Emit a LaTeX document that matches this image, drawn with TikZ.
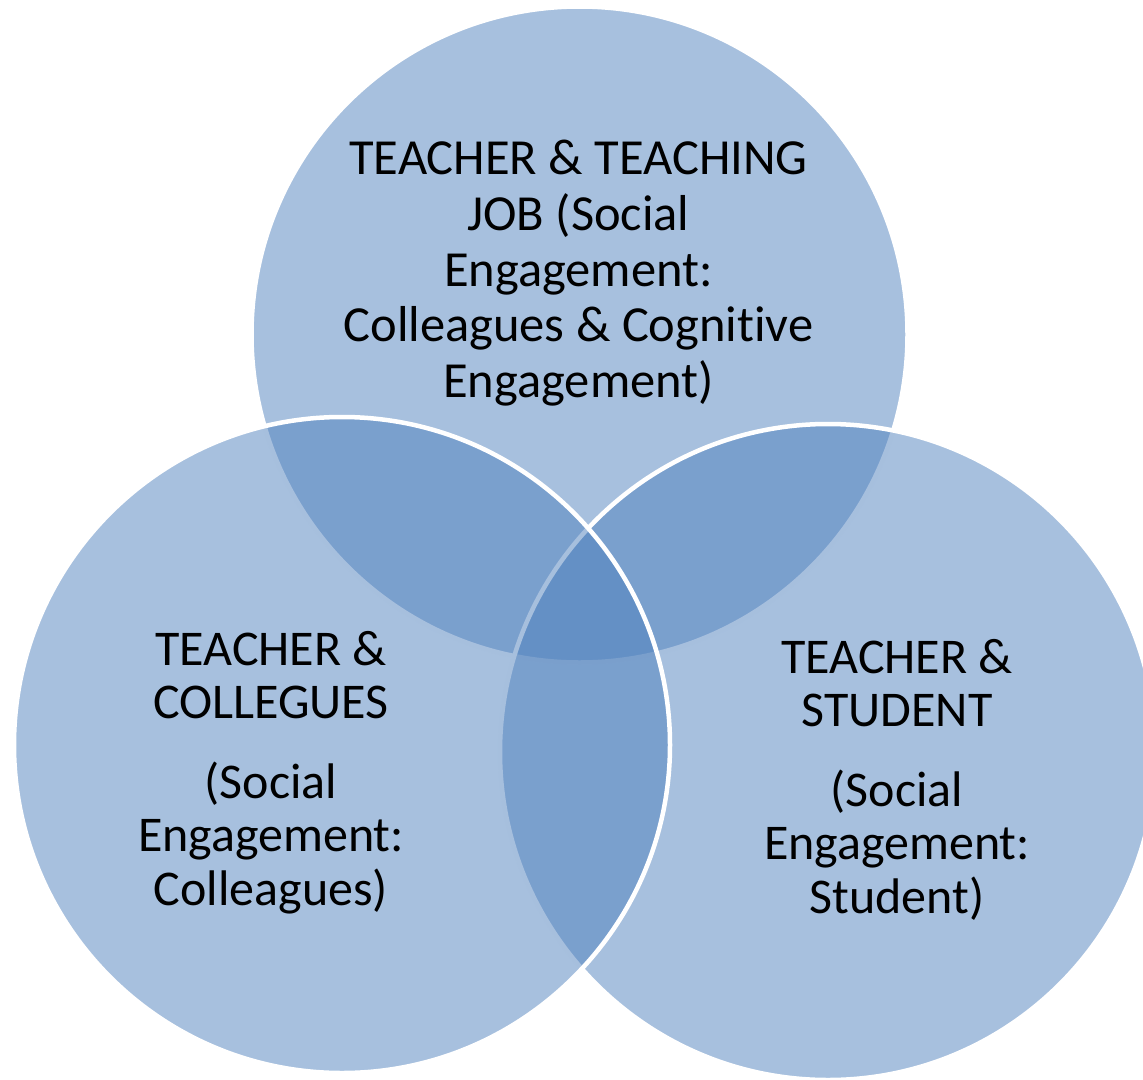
\documentclass[tikz,border=0pt]{standalone}
\usepackage{fontspec}
\setmainfont[Ligatures={NoCommon}]{Carlito}
\definecolor{vennblue}{RGB}{79,129,189}
\begin{document}
\begin{tikzpicture}[x=1pt,y=-1pt,
  venn/.style={circle, minimum size=656pt, inner sep=0pt, outer sep=0pt,
    fill=vennblue, fill opacity=0.5, draw=white, draw opacity=1, line width=4.5pt},
  label/.style={align=center, inner sep=0pt, anchor=north, text=black}]
\useasboundingbox (0,0) rectangle (1143,1079);
\clip (0,0) rectangle (1143,1079);
\node[venn] (ctop) at (579.5,334.5) {};
\node[venn] (cright) at (828,752) {};
\node[venn] (cleft) at (342,745) {};
\node[label, font=\fontsize{50.5}{55.7}\selectfont] (ttop) at (578.5,140) {TEACHER \& TEACHING\\JOB (Social\\Engagement:\\Colleagues \& Cognitive\\Engagement)};
\node[label, font=\fontsize{50}{53.5}\selectfont] (tleft) at (271,631) {TEACHER \&\\COLLEGUES\\[26pt](Social\\Engagement:\\Colleagues)};
\node[label, font=\fontsize{50}{53.5}\selectfont] (tright) at (897,639) {TEACHER \&\\STUDENT\\[26pt](Social\\Engagement:\\Student)};
\end{tikzpicture}
\end{document}
